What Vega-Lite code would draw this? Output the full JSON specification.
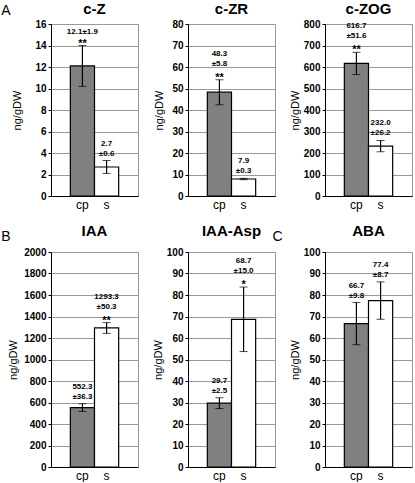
{
  "$schema": "https://vega.github.io/schema/vega-lite/v6.json",
  "padding": {"left": 0, "top": 1, "right": 0, "bottom": 0},
  "background": "white",
  "config": {
    "font": "Liberation Sans",
    "view": {"stroke": "#999999", "strokeWidth": 1},
    "axis": {"domainColor": "black", "tickColor": "black", "labelColor": "black", "titleColor": "black", "gridColor": "#999999", "labelFont": "Liberation Sans", "titleFont": "Liberation Sans", "labelOverlap": false},
    "axisY": {"tickSize": 3, "labelPadding": 2, "labelFontSize": 10, "labelFontWeight": "bold", "titleFontSize": 11, "titleFontWeight": "normal", "grid": true, "format": "d"},
    "axisX": {"ticks": false, "labelFontSize": 12, "labelFontWeight": "normal", "labelAngle": 0, "labelPadding": 3, "grid": false, "titleFontSize": 14, "titleFontWeight": "normal", "titleAnchor": "start", "titleAlign": "right", "titleBaseline": "top"},
    "title": {"fontSize": 15, "fontWeight": "bold", "font": "Liberation Sans", "color": "black", "offset": 2},
    "bar": {"stroke": "black", "strokeWidth": 1.2},
    "text": {"font": "Liberation Sans", "fontSize": 8, "fontWeight": "bold", "color": "black", "align": "center", "baseline": "middle"}
  },
  "datasets": {
    "h": [
      {"panel": "c-Z", "group": "cp", "mean": 12.1, "lo": 10.2, "hi": 14.0, "v": "12.1±1.9", "e": "", "sig": "**"},
      {"panel": "c-Z", "group": "s", "mean": 2.7, "lo": 2.1, "hi": 3.3, "v": "2.7", "e": "±0.6", "sig": ""},
      {"panel": "c-ZR", "group": "cp", "mean": 48.3, "lo": 42.5, "hi": 54.1, "v": "48.3", "e": "±5.8", "sig": "**"},
      {"panel": "c-ZR", "group": "s", "mean": 7.9, "lo": 7.6, "hi": 8.2, "v": "7.9", "e": "±0.3", "sig": ""},
      {"panel": "c-ZOG", "group": "cp", "mean": 616.7, "lo": 565.1, "hi": 668.3, "v": "616.7", "e": "±51.6", "sig": "**"},
      {"panel": "c-ZOG", "group": "s", "mean": 232.0, "lo": 205.8, "hi": 258.2, "v": "232.0", "e": "±26.2", "sig": ""},
      {"panel": "IAA", "group": "cp", "mean": 552.3, "lo": 516.0, "hi": 588.6, "v": "552.3", "e": "±36.3", "sig": ""},
      {"panel": "IAA", "group": "s", "mean": 1293.3, "lo": 1243.0, "hi": 1343.6, "v": "1293.3", "e": "±50.3", "sig": "**"},
      {"panel": "IAA-Asp", "group": "cp", "mean": 29.7, "lo": 27.2, "hi": 32.2, "v": "29.7", "e": "±2.5", "sig": ""},
      {"panel": "IAA-Asp", "group": "s", "mean": 68.7, "lo": 53.7, "hi": 83.7, "v": "68.7", "e": "±15.0", "sig": "*"},
      {"panel": "ABA", "group": "cp", "mean": 66.7, "lo": 56.9, "hi": 76.5, "v": "66.7", "e": "±9.8", "sig": ""},
      {"panel": "ABA", "group": "s", "mean": 77.4, "lo": 68.7, "hi": 86.1, "v": "77.4", "e": "±8.7", "sig": ""}
    ]
  },
  "columns": 3,
  "bounds": "flush",
  "align": "each",
  "spacing": {"row": 56, "column": 50},
  "concat": [
    {
      "title": {"text": "c-Z", "offset": -14},
      "width": 87, "height": 172,
      "data": {"name": "h"},
      "transform": [{"filter": "datum.panel === 'c-Z'"}],
      "encoding": {"x": {"field": "group", "type": "nominal", "sort": ["cp", "s"], "scale": {"paddingInner": 0, "paddingOuter": 0.8}, "title": "A", "axis": {"titleX": -41, "titleY": -193}}},
      "layer": [
        {"mark": "bar", "encoding": {
          "y": {"field": "mean", "type": "quantitative", "title": "ng/gDW", "scale": {"domain": [0, 16], "nice": false}, "axis": {"values": [0, 2, 4, 6, 8, 10, 12, 14, 16], "titlePadding": 12}},
          "fill": {"field": "group", "type": "nominal", "scale": {"domain": ["cp", "s"], "range": ["#808080", "#ffffff"]}, "legend": null}}},
        {"mark": {"type": "errorbar", "ticks": {"size": 8}, "color": "black", "rule": {"strokeWidth": 1.2}}, "encoding": {
          "y": {"field": "lo", "type": "quantitative", "title": "ng/gDW", "scale": {"domain": [0, 16], "nice": false}, "axis": {"values": [0, 2, 4, 6, 8, 10, 12, 14, 16], "titlePadding": 12}}, "y2": {"field": "hi"}}},
        {"transform": [{"filter": "datum.sig != '' && datum.e != ''"}], "mark": {"type": "text", "dy": -26}, "encoding": {
          "y": {"field": "hi", "type": "quantitative", "title": "ng/gDW", "scale": {"domain": [0, 16], "nice": false}, "axis": {"values": [0, 2, 4, 6, 8, 10, 12, 14, 16], "titlePadding": 12}}, "text": {"field": "v", "type": "nominal"}}},
        {"transform": [{"filter": "datum.sig != '' && datum.e == ''"}], "mark": {"type": "text", "dy": -14}, "encoding": {
          "y": {"field": "hi", "type": "quantitative", "title": "ng/gDW", "scale": {"domain": [0, 16], "nice": false}, "axis": {"values": [0, 2, 4, 6, 8, 10, 12, 14, 16], "titlePadding": 12}}, "text": {"field": "v", "type": "nominal"}}},
        {"transform": [{"filter": "datum.sig == ''"}], "mark": {"type": "text", "dy": -17}, "encoding": {
          "y": {"field": "hi", "type": "quantitative", "title": "ng/gDW", "scale": {"domain": [0, 16], "nice": false}, "axis": {"values": [0, 2, 4, 6, 8, 10, 12, 14, 16], "titlePadding": 12}}, "text": {"field": "v", "type": "nominal"}}},
        {"transform": [{"filter": "datum.sig != '' && datum.e != ''"}], "mark": {"type": "text", "dy": -16}, "encoding": {
          "y": {"field": "hi", "type": "quantitative", "title": "ng/gDW", "scale": {"domain": [0, 16], "nice": false}, "axis": {"values": [0, 2, 4, 6, 8, 10, 12, 14, 16], "titlePadding": 12}}, "text": {"field": "e", "type": "nominal"}}},
        {"transform": [{"filter": "datum.sig == ''"}], "mark": {"type": "text", "dy": -7}, "encoding": {
          "y": {"field": "hi", "type": "quantitative", "title": "ng/gDW", "scale": {"domain": [0, 16], "nice": false}, "axis": {"values": [0, 2, 4, 6, 8, 10, 12, 14, 16], "titlePadding": 12}}, "text": {"field": "e", "type": "nominal"}}},
        {"transform": [{"filter": "datum.sig != ''"}], "mark": {"type": "text", "dy": -2, "fontSize": 11}, "encoding": {
          "y": {"field": "hi", "type": "quantitative", "title": "ng/gDW", "scale": {"domain": [0, 16], "nice": false}, "axis": {"values": [0, 2, 4, 6, 8, 10, 12, 14, 16], "titlePadding": 12}}, "text": {"field": "sig", "type": "nominal"}}}
      ]
    },
    {
      "title": {"text": "c-ZR"},
      "width": 87, "height": 172,
      "data": {"name": "h"},
      "transform": [{"filter": "datum.panel === 'c-ZR'"}],
      "encoding": {"x": {"field": "group", "type": "nominal", "sort": ["cp", "s"], "scale": {"paddingInner": 0, "paddingOuter": 0.8}, "title": null}},
      "layer": [
        {"mark": "bar", "encoding": {
          "y": {"field": "mean", "type": "quantitative", "title": "ng/gDW", "scale": {"domain": [0, 80], "nice": false}, "axis": {"values": [0, 10, 20, 30, 40, 50, 60, 70, 80], "titlePadding": 7}},
          "fill": {"field": "group", "type": "nominal", "scale": {"domain": ["cp", "s"], "range": ["#808080", "#ffffff"]}, "legend": null}}},
        {"mark": {"type": "errorbar", "ticks": {"size": 8}, "color": "black", "rule": {"strokeWidth": 1.2}}, "encoding": {
          "y": {"field": "lo", "type": "quantitative", "title": "ng/gDW", "scale": {"domain": [0, 80], "nice": false}, "axis": {"values": [0, 10, 20, 30, 40, 50, 60, 70, 80], "titlePadding": 7}}, "y2": {"field": "hi"}}},
        {"transform": [{"filter": "datum.sig != '' && datum.e != ''"}], "mark": {"type": "text", "dy": -26}, "encoding": {
          "y": {"field": "hi", "type": "quantitative", "title": "ng/gDW", "scale": {"domain": [0, 80], "nice": false}, "axis": {"values": [0, 10, 20, 30, 40, 50, 60, 70, 80], "titlePadding": 7}}, "text": {"field": "v", "type": "nominal"}}},
        {"transform": [{"filter": "datum.sig != '' && datum.e == ''"}], "mark": {"type": "text", "dy": -14}, "encoding": {
          "y": {"field": "hi", "type": "quantitative", "title": "ng/gDW", "scale": {"domain": [0, 80], "nice": false}, "axis": {"values": [0, 10, 20, 30, 40, 50, 60, 70, 80], "titlePadding": 7}}, "text": {"field": "v", "type": "nominal"}}},
        {"transform": [{"filter": "datum.sig == ''"}], "mark": {"type": "text", "dy": -17}, "encoding": {
          "y": {"field": "hi", "type": "quantitative", "title": "ng/gDW", "scale": {"domain": [0, 80], "nice": false}, "axis": {"values": [0, 10, 20, 30, 40, 50, 60, 70, 80], "titlePadding": 7}}, "text": {"field": "v", "type": "nominal"}}},
        {"transform": [{"filter": "datum.sig != '' && datum.e != ''"}], "mark": {"type": "text", "dy": -16}, "encoding": {
          "y": {"field": "hi", "type": "quantitative", "title": "ng/gDW", "scale": {"domain": [0, 80], "nice": false}, "axis": {"values": [0, 10, 20, 30, 40, 50, 60, 70, 80], "titlePadding": 7}}, "text": {"field": "e", "type": "nominal"}}},
        {"transform": [{"filter": "datum.sig == ''"}], "mark": {"type": "text", "dy": -7}, "encoding": {
          "y": {"field": "hi", "type": "quantitative", "title": "ng/gDW", "scale": {"domain": [0, 80], "nice": false}, "axis": {"values": [0, 10, 20, 30, 40, 50, 60, 70, 80], "titlePadding": 7}}, "text": {"field": "e", "type": "nominal"}}},
        {"transform": [{"filter": "datum.sig != ''"}], "mark": {"type": "text", "dy": -2, "fontSize": 11}, "encoding": {
          "y": {"field": "hi", "type": "quantitative", "title": "ng/gDW", "scale": {"domain": [0, 80], "nice": false}, "axis": {"values": [0, 10, 20, 30, 40, 50, 60, 70, 80], "titlePadding": 7}}, "text": {"field": "sig", "type": "nominal"}}}
      ]
    },
    {
      "title": {"text": "c-ZOG"},
      "width": 87, "height": 172,
      "data": {"name": "h"},
      "transform": [{"filter": "datum.panel === 'c-ZOG'"}],
      "encoding": {"x": {"field": "group", "type": "nominal", "sort": ["cp", "s"], "scale": {"paddingInner": 0, "paddingOuter": 0.8}, "title": null}},
      "layer": [
        {"mark": "bar", "encoding": {
          "y": {"field": "mean", "type": "quantitative", "title": "ng/gDW", "scale": {"domain": [0, 800], "nice": false}, "axis": {"values": [0, 100, 200, 300, 400, 500, 600, 700, 800], "titlePadding": 3}},
          "fill": {"field": "group", "type": "nominal", "scale": {"domain": ["cp", "s"], "range": ["#808080", "#ffffff"]}, "legend": null}}},
        {"mark": {"type": "errorbar", "ticks": {"size": 8}, "color": "black", "rule": {"strokeWidth": 1.2}}, "encoding": {
          "y": {"field": "lo", "type": "quantitative", "title": "ng/gDW", "scale": {"domain": [0, 800], "nice": false}, "axis": {"values": [0, 100, 200, 300, 400, 500, 600, 700, 800], "titlePadding": 3}}, "y2": {"field": "hi"}}},
        {"transform": [{"filter": "datum.sig != '' && datum.e != ''"}], "mark": {"type": "text", "dy": -26}, "encoding": {
          "y": {"field": "hi", "type": "quantitative", "title": "ng/gDW", "scale": {"domain": [0, 800], "nice": false}, "axis": {"values": [0, 100, 200, 300, 400, 500, 600, 700, 800], "titlePadding": 3}}, "text": {"field": "v", "type": "nominal"}}},
        {"transform": [{"filter": "datum.sig != '' && datum.e == ''"}], "mark": {"type": "text", "dy": -14}, "encoding": {
          "y": {"field": "hi", "type": "quantitative", "title": "ng/gDW", "scale": {"domain": [0, 800], "nice": false}, "axis": {"values": [0, 100, 200, 300, 400, 500, 600, 700, 800], "titlePadding": 3}}, "text": {"field": "v", "type": "nominal"}}},
        {"transform": [{"filter": "datum.sig == ''"}], "mark": {"type": "text", "dy": -17}, "encoding": {
          "y": {"field": "hi", "type": "quantitative", "title": "ng/gDW", "scale": {"domain": [0, 800], "nice": false}, "axis": {"values": [0, 100, 200, 300, 400, 500, 600, 700, 800], "titlePadding": 3}}, "text": {"field": "v", "type": "nominal"}}},
        {"transform": [{"filter": "datum.sig != '' && datum.e != ''"}], "mark": {"type": "text", "dy": -16}, "encoding": {
          "y": {"field": "hi", "type": "quantitative", "title": "ng/gDW", "scale": {"domain": [0, 800], "nice": false}, "axis": {"values": [0, 100, 200, 300, 400, 500, 600, 700, 800], "titlePadding": 3}}, "text": {"field": "e", "type": "nominal"}}},
        {"transform": [{"filter": "datum.sig == ''"}], "mark": {"type": "text", "dy": -7}, "encoding": {
          "y": {"field": "hi", "type": "quantitative", "title": "ng/gDW", "scale": {"domain": [0, 800], "nice": false}, "axis": {"values": [0, 100, 200, 300, 400, 500, 600, 700, 800], "titlePadding": 3}}, "text": {"field": "e", "type": "nominal"}}},
        {"transform": [{"filter": "datum.sig != ''"}], "mark": {"type": "text", "dy": -2, "fontSize": 11}, "encoding": {
          "y": {"field": "hi", "type": "quantitative", "title": "ng/gDW", "scale": {"domain": [0, 800], "nice": false}, "axis": {"values": [0, 100, 200, 300, 400, 500, 600, 700, 800], "titlePadding": 3}}, "text": {"field": "sig", "type": "nominal"}}}
      ]
    },
    {
      "title": {"text": "IAA", "offset": -10},
      "width": 87, "height": 215,
      "data": {"name": "h"},
      "transform": [{"filter": "datum.panel === 'IAA'"}],
      "encoding": {"x": {"field": "group", "type": "nominal", "sort": ["cp", "s"], "scale": {"paddingInner": 0, "paddingOuter": 0.8}, "title": "B", "axis": {"titleX": -41, "titleY": -238}}},
      "layer": [
        {"mark": "bar", "encoding": {
          "y": {"field": "mean", "type": "quantitative", "title": "ng/gDW", "scale": {"domain": [0, 2000], "nice": false}, "axis": {"values": [0, 200, 400, 600, 800, 1000, 1200, 1400, 1600, 1800, 2000], "titlePadding": 5}},
          "fill": {"field": "group", "type": "nominal", "scale": {"domain": ["cp", "s"], "range": ["#808080", "#ffffff"]}, "legend": null}}},
        {"mark": {"type": "errorbar", "ticks": {"size": 8}, "color": "black", "rule": {"strokeWidth": 1.2}}, "encoding": {
          "y": {"field": "lo", "type": "quantitative", "title": "ng/gDW", "scale": {"domain": [0, 2000], "nice": false}, "axis": {"values": [0, 200, 400, 600, 800, 1000, 1200, 1400, 1600, 1800, 2000], "titlePadding": 5}}, "y2": {"field": "hi"}}},
        {"transform": [{"filter": "datum.sig != '' && datum.e != ''"}], "mark": {"type": "text", "dy": -26}, "encoding": {
          "y": {"field": "hi", "type": "quantitative", "title": "ng/gDW", "scale": {"domain": [0, 2000], "nice": false}, "axis": {"values": [0, 200, 400, 600, 800, 1000, 1200, 1400, 1600, 1800, 2000], "titlePadding": 5}}, "text": {"field": "v", "type": "nominal"}}},
        {"transform": [{"filter": "datum.sig != '' && datum.e == ''"}], "mark": {"type": "text", "dy": -14}, "encoding": {
          "y": {"field": "hi", "type": "quantitative", "title": "ng/gDW", "scale": {"domain": [0, 2000], "nice": false}, "axis": {"values": [0, 200, 400, 600, 800, 1000, 1200, 1400, 1600, 1800, 2000], "titlePadding": 5}}, "text": {"field": "v", "type": "nominal"}}},
        {"transform": [{"filter": "datum.sig == ''"}], "mark": {"type": "text", "dy": -17}, "encoding": {
          "y": {"field": "hi", "type": "quantitative", "title": "ng/gDW", "scale": {"domain": [0, 2000], "nice": false}, "axis": {"values": [0, 200, 400, 600, 800, 1000, 1200, 1400, 1600, 1800, 2000], "titlePadding": 5}}, "text": {"field": "v", "type": "nominal"}}},
        {"transform": [{"filter": "datum.sig != '' && datum.e != ''"}], "mark": {"type": "text", "dy": -16}, "encoding": {
          "y": {"field": "hi", "type": "quantitative", "title": "ng/gDW", "scale": {"domain": [0, 2000], "nice": false}, "axis": {"values": [0, 200, 400, 600, 800, 1000, 1200, 1400, 1600, 1800, 2000], "titlePadding": 5}}, "text": {"field": "e", "type": "nominal"}}},
        {"transform": [{"filter": "datum.sig == ''"}], "mark": {"type": "text", "dy": -7}, "encoding": {
          "y": {"field": "hi", "type": "quantitative", "title": "ng/gDW", "scale": {"domain": [0, 2000], "nice": false}, "axis": {"values": [0, 200, 400, 600, 800, 1000, 1200, 1400, 1600, 1800, 2000], "titlePadding": 5}}, "text": {"field": "e", "type": "nominal"}}},
        {"transform": [{"filter": "datum.sig != ''"}], "mark": {"type": "text", "dy": -2, "fontSize": 11}, "encoding": {
          "y": {"field": "hi", "type": "quantitative", "title": "ng/gDW", "scale": {"domain": [0, 2000], "nice": false}, "axis": {"values": [0, 200, 400, 600, 800, 1000, 1200, 1400, 1600, 1800, 2000], "titlePadding": 5}}, "text": {"field": "sig", "type": "nominal"}}}
      ]
    },
    {
      "title": {"text": "IAA-Asp", "offset": 8},
      "width": 87, "height": 215,
      "data": {"name": "h"},
      "transform": [{"filter": "datum.panel === 'IAA-Asp'"}],
      "encoding": {"x": {"field": "group", "type": "nominal", "sort": ["cp", "s"], "scale": {"paddingInner": 0, "paddingOuter": 0.8}, "title": null}},
      "layer": [
        {"mark": "bar", "encoding": {
          "y": {"field": "mean", "type": "quantitative", "title": "ng/gDW", "scale": {"domain": [0, 100], "nice": false}, "axis": {"values": [0, 10, 20, 30, 40, 50, 60, 70, 80, 90, 100], "titlePadding": 3}},
          "fill": {"field": "group", "type": "nominal", "scale": {"domain": ["cp", "s"], "range": ["#808080", "#ffffff"]}, "legend": null}}},
        {"mark": {"type": "errorbar", "ticks": {"size": 8}, "color": "black", "rule": {"strokeWidth": 1.2}}, "encoding": {
          "y": {"field": "lo", "type": "quantitative", "title": "ng/gDW", "scale": {"domain": [0, 100], "nice": false}, "axis": {"values": [0, 10, 20, 30, 40, 50, 60, 70, 80, 90, 100], "titlePadding": 3}}, "y2": {"field": "hi"}}},
        {"transform": [{"filter": "datum.sig != '' && datum.e != ''"}], "mark": {"type": "text", "dy": -26}, "encoding": {
          "y": {"field": "hi", "type": "quantitative", "title": "ng/gDW", "scale": {"domain": [0, 100], "nice": false}, "axis": {"values": [0, 10, 20, 30, 40, 50, 60, 70, 80, 90, 100], "titlePadding": 3}}, "text": {"field": "v", "type": "nominal"}}},
        {"transform": [{"filter": "datum.sig != '' && datum.e == ''"}], "mark": {"type": "text", "dy": -14}, "encoding": {
          "y": {"field": "hi", "type": "quantitative", "title": "ng/gDW", "scale": {"domain": [0, 100], "nice": false}, "axis": {"values": [0, 10, 20, 30, 40, 50, 60, 70, 80, 90, 100], "titlePadding": 3}}, "text": {"field": "v", "type": "nominal"}}},
        {"transform": [{"filter": "datum.sig == ''"}], "mark": {"type": "text", "dy": -17}, "encoding": {
          "y": {"field": "hi", "type": "quantitative", "title": "ng/gDW", "scale": {"domain": [0, 100], "nice": false}, "axis": {"values": [0, 10, 20, 30, 40, 50, 60, 70, 80, 90, 100], "titlePadding": 3}}, "text": {"field": "v", "type": "nominal"}}},
        {"transform": [{"filter": "datum.sig != '' && datum.e != ''"}], "mark": {"type": "text", "dy": -16}, "encoding": {
          "y": {"field": "hi", "type": "quantitative", "title": "ng/gDW", "scale": {"domain": [0, 100], "nice": false}, "axis": {"values": [0, 10, 20, 30, 40, 50, 60, 70, 80, 90, 100], "titlePadding": 3}}, "text": {"field": "e", "type": "nominal"}}},
        {"transform": [{"filter": "datum.sig == ''"}], "mark": {"type": "text", "dy": -7}, "encoding": {
          "y": {"field": "hi", "type": "quantitative", "title": "ng/gDW", "scale": {"domain": [0, 100], "nice": false}, "axis": {"values": [0, 10, 20, 30, 40, 50, 60, 70, 80, 90, 100], "titlePadding": 3}}, "text": {"field": "e", "type": "nominal"}}},
        {"transform": [{"filter": "datum.sig != ''"}], "mark": {"type": "text", "dy": -2, "fontSize": 11}, "encoding": {
          "y": {"field": "hi", "type": "quantitative", "title": "ng/gDW", "scale": {"domain": [0, 100], "nice": false}, "axis": {"values": [0, 10, 20, 30, 40, 50, 60, 70, 80, 90, 100], "titlePadding": 3}}, "text": {"field": "sig", "type": "nominal"}}}
      ]
    },
    {
      "title": {"text": "ABA", "offset": -10},
      "width": 87, "height": 215,
      "data": {"name": "h"},
      "transform": [{"filter": "datum.panel === 'ABA'"}],
      "encoding": {"x": {"field": "group", "type": "nominal", "sort": ["cp", "s"], "scale": {"paddingInner": 0, "paddingOuter": 0.8}, "title": "C", "axis": {"titleX": -43, "titleY": -238}}},
      "layer": [
        {"mark": "bar", "encoding": {
          "y": {"field": "mean", "type": "quantitative", "title": "ng/gDW", "scale": {"domain": [0, 100], "nice": false}, "axis": {"values": [0, 10, 20, 30, 40, 50, 60, 70, 80, 90, 100], "titlePadding": 3}},
          "fill": {"field": "group", "type": "nominal", "scale": {"domain": ["cp", "s"], "range": ["#808080", "#ffffff"]}, "legend": null}}},
        {"mark": {"type": "errorbar", "ticks": {"size": 8}, "color": "black", "rule": {"strokeWidth": 1.2}}, "encoding": {
          "y": {"field": "lo", "type": "quantitative", "title": "ng/gDW", "scale": {"domain": [0, 100], "nice": false}, "axis": {"values": [0, 10, 20, 30, 40, 50, 60, 70, 80, 90, 100], "titlePadding": 3}}, "y2": {"field": "hi"}}},
        {"transform": [{"filter": "datum.sig != '' && datum.e != ''"}], "mark": {"type": "text", "dy": -26}, "encoding": {
          "y": {"field": "hi", "type": "quantitative", "title": "ng/gDW", "scale": {"domain": [0, 100], "nice": false}, "axis": {"values": [0, 10, 20, 30, 40, 50, 60, 70, 80, 90, 100], "titlePadding": 3}}, "text": {"field": "v", "type": "nominal"}}},
        {"transform": [{"filter": "datum.sig != '' && datum.e == ''"}], "mark": {"type": "text", "dy": -14}, "encoding": {
          "y": {"field": "hi", "type": "quantitative", "title": "ng/gDW", "scale": {"domain": [0, 100], "nice": false}, "axis": {"values": [0, 10, 20, 30, 40, 50, 60, 70, 80, 90, 100], "titlePadding": 3}}, "text": {"field": "v", "type": "nominal"}}},
        {"transform": [{"filter": "datum.sig == ''"}], "mark": {"type": "text", "dy": -17}, "encoding": {
          "y": {"field": "hi", "type": "quantitative", "title": "ng/gDW", "scale": {"domain": [0, 100], "nice": false}, "axis": {"values": [0, 10, 20, 30, 40, 50, 60, 70, 80, 90, 100], "titlePadding": 3}}, "text": {"field": "v", "type": "nominal"}}},
        {"transform": [{"filter": "datum.sig != '' && datum.e != ''"}], "mark": {"type": "text", "dy": -16}, "encoding": {
          "y": {"field": "hi", "type": "quantitative", "title": "ng/gDW", "scale": {"domain": [0, 100], "nice": false}, "axis": {"values": [0, 10, 20, 30, 40, 50, 60, 70, 80, 90, 100], "titlePadding": 3}}, "text": {"field": "e", "type": "nominal"}}},
        {"transform": [{"filter": "datum.sig == ''"}], "mark": {"type": "text", "dy": -7}, "encoding": {
          "y": {"field": "hi", "type": "quantitative", "title": "ng/gDW", "scale": {"domain": [0, 100], "nice": false}, "axis": {"values": [0, 10, 20, 30, 40, 50, 60, 70, 80, 90, 100], "titlePadding": 3}}, "text": {"field": "e", "type": "nominal"}}},
        {"transform": [{"filter": "datum.sig != ''"}], "mark": {"type": "text", "dy": -2, "fontSize": 11}, "encoding": {
          "y": {"field": "hi", "type": "quantitative", "title": "ng/gDW", "scale": {"domain": [0, 100], "nice": false}, "axis": {"values": [0, 10, 20, 30, 40, 50, 60, 70, 80, 90, 100], "titlePadding": 3}}, "text": {"field": "sig", "type": "nominal"}}}
      ]
    }
  ]
}
